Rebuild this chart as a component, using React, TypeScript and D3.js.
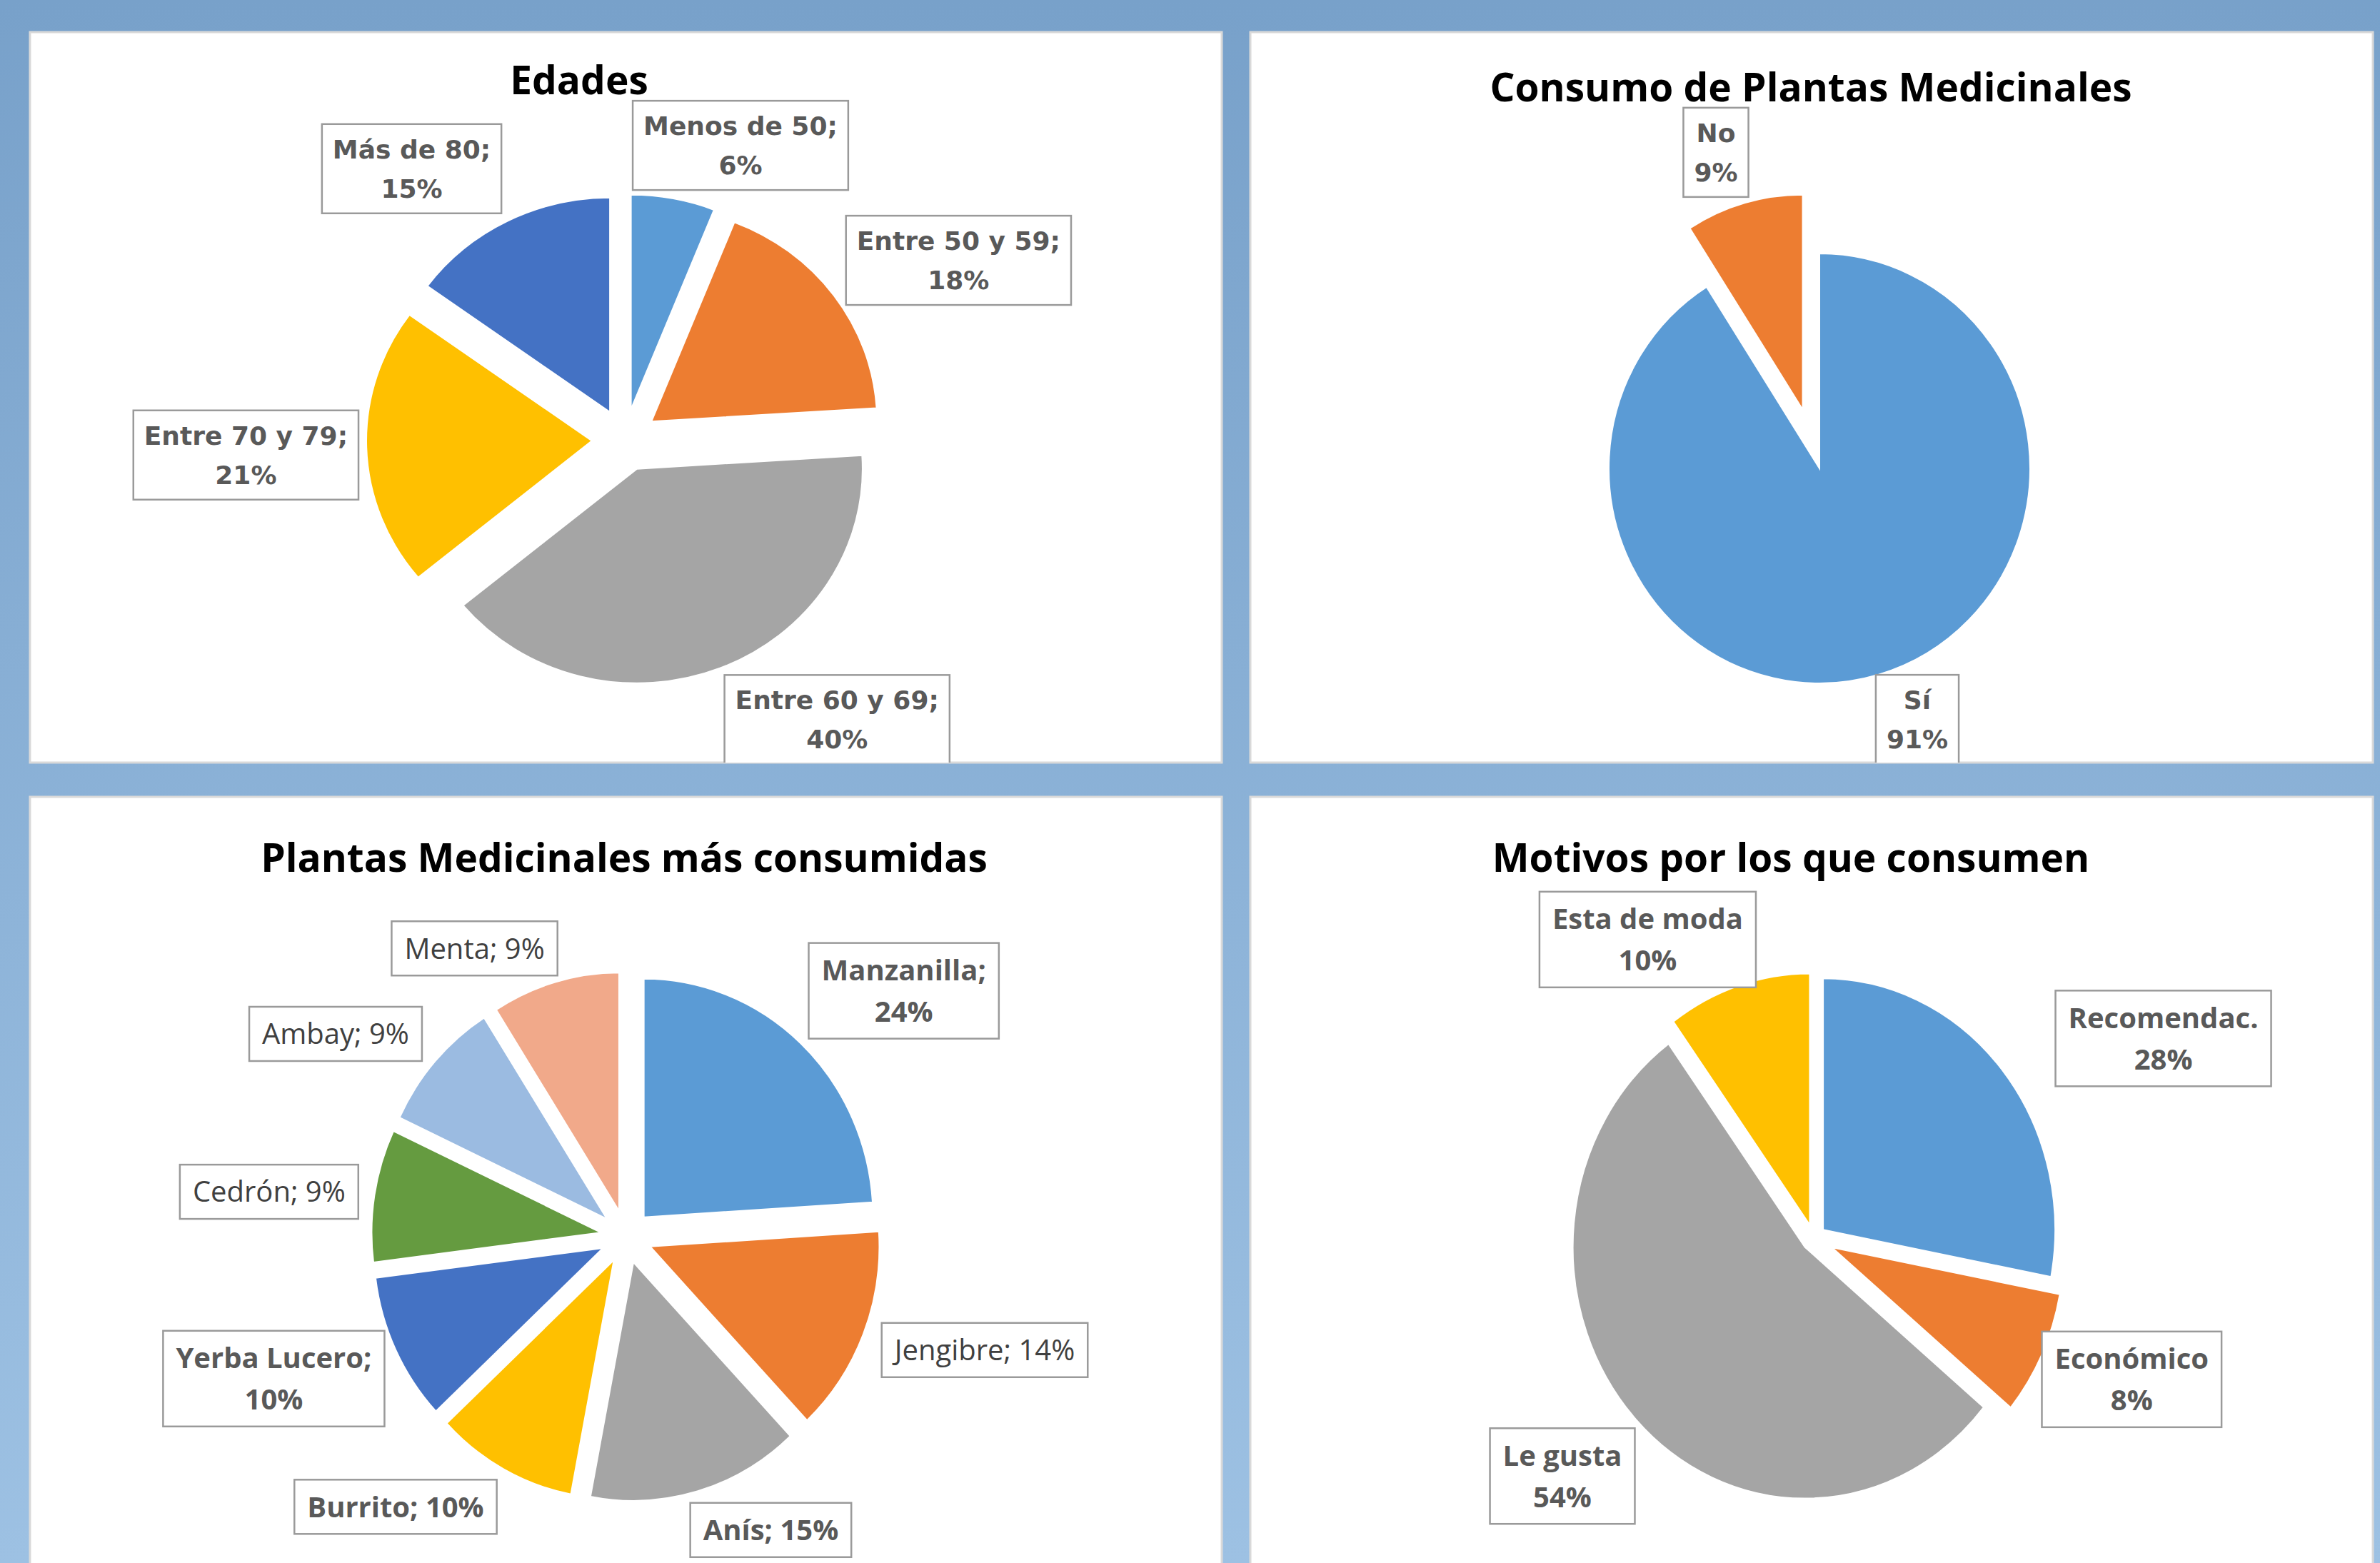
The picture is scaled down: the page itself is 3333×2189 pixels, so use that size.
import React from 'react';
import * as d3 from 'd3';

const W = 3333;
const H = 2189;

// ---------------- Data ----------------
const edadesTitle = 'Edades';
const edadesCats = ['Menos de 50', 'Entre 50 y 59', 'Entre 60 y 69', 'Entre 70 y 79', 'Más de 80'];
const edadesVals = [6, 18, 40, 21, 15];

const consumoTitle = 'Consumo de Plantas Medicinales';
const consumoCats = ['Sí', 'No'];
const consumoVals = [91, 9];

const plantasTitle = 'Plantas Medicinales más consumidas';
const plantasCats = ['Manzanilla', 'Jengibre', 'Anís', 'Burrito', 'Yerba Lucero', 'Cedrón', 'Ambay', 'Menta'];
const plantasVals = [24, 14, 15, 10, 10, 9, 9, 9];

const motivosTitle = 'Motivos por los que consumen';
const motivosCats = ['Recomendac.', 'Económico', 'Le gusta', 'Esta de moda'];
const motivosVals = [28, 8, 54, 10];

// ---------------- Styles / layout ----------------
const C_BLUE = '#5B9BD5';
const C_ORANGE = '#ED7D31';
const C_GRAY = '#A5A5A5';
const C_YELLOW = '#FFC000';
const C_DBLUE = '#4472C4';
const C_GREEN = '#659B40';
const C_LBLUE = '#9BBBE1';
const C_SALMON = '#F1A98A';

const edadesColors = [C_BLUE, C_ORANGE, C_GRAY, C_YELLOW, C_DBLUE];
const consumoColors = [C_BLUE, C_ORANGE];
const plantasColors = [C_BLUE, C_ORANGE, C_GRAY, C_YELLOW, C_DBLUE, C_GREEN, C_LBLUE, C_SALMON];
const motivosColors = [C_BLUE, C_ORANGE, C_GRAY, C_YELLOW];

const topLabel = { family: '"DejaVu Sans"', size: 36, lineH: 55, padX: 15, padV: 7.5, cap: 0.729 };
const botLabel = { family: '"Open Sans"', size: 40, lineH: 58, padX: 18, padV: 9, cap: 0.714 };

const panels = {
  edades: {
    x: 42, y: 45, w: 1669, h: 1023,
    titleX: 811, titleY: 132,
    cx: 875, cy: 616, r: 316, ky: 0.95,
    explode: [46, 46, 46, 46, 46],
    labelR: 1.3,
    nudges: [[85, -29], [135, -22], [146, 29], [-120, 9], [-112, -32]],
    twoLine: [true, true, true, true, true],
    bold: [true, true, true, true, true],
    sep: ';',
    style: topLabel,
  },
  consumo: {
    x: 1751, y: 45, w: 1572, h: 1023,
    titleX: 2536, titleY: 142,
    cx: 2548, cy: 656, r: 295, ky: 1.02,
    explode: [0, 84],
    labelR: 1.3,
    nudges: [[30, -24], [-38, -67]],
    twoLine: [true, true],
    bold: [true, true],
    sep: '',
    style: topLabel,
  },
  plantas: {
    x: 42, y: 1116, w: 1669, h: 1120,
    titleX: 874, titleY: 1221,
    cx: 877, cy: 1732, r: 321, ky: 1.04,
    explode: [36, 36, 36, 36, 36, 36, 36, 36],
    labelR: 1.3,
    nudges: [[103, -28], [114, -1], [86, -6], [-122, -2], [-116, 14], [-88, 5], [-94, 3], [-96, 13]],
    twoLine: [true, false, false, false, true, false, false, false],
    bold: [true, false, true, true, true, false, false, false],
    sep: ';',
    style: botLabel,
  },
  motivos: {
    x: 1751, y: 1116, w: 1572, h: 1120,
    titleX: 2508, titleY: 1221,
    cx: 2540, cy: 1734, r: 325, ky: 1.083,
    explode: [17, 28, 17, 18],
    labelR: 1.3,
    nudges: [[164, 12], [63, 3], [-44, 20], [-102, 17]],
    twoLine: [true, true, true, true],
    bold: [true, true, true, true],
    sep: '',
    style: botLabel,
  },
};

let _ctx: CanvasRenderingContext2D | null = null;
function measure(text: string, font: string): number {
  if (!_ctx) {
    const c = document.createElement('canvas');
    _ctx = c.getContext('2d');
  }
  if (!_ctx) return text.length * 20;
  _ctx.font = font;
  return _ctx.measureText(text).width;
}

function PiePanel({ id, p, title, cats, vals, colors }: any) {
  const pieGen = d3.pie<number>().sort(null).value((d: number) => d).startAngle(0).endAngle(2 * Math.PI);
  const arcs = pieGen(vals);
  const arcGen = d3.arc<any>().innerRadius(0).outerRadius(p.r);
  const labR = p.r * p.labelR;
  const labArc = d3.arc<any>().innerRadius(labR).outerRadius(labR);
  const st = p.style;

  return (
    <g>
      <defs>
        <clipPath id={`clip-${id}`}>
          <rect x={p.x} y={p.y} width={p.w} height={p.h} />
        </clipPath>
      </defs>
      <rect x={p.x} y={p.y} width={p.w} height={p.h} fill="#FFFFFF" stroke="#D9D9D9" strokeWidth={3} />
      <g clipPath={`url(#clip-${id})`}>
        <text
          x={p.titleX}
          y={p.titleY}
          textAnchor="middle"
          fontFamily='"Open Sans", sans-serif'
          fontWeight={700}
          fontSize={55}
          fill="#000000"
        >
          {title}
        </text>
        <g transform={`translate(${p.cx},${p.cy}) scale(1,${p.ky})`}>
          {arcs.map((a: any, i: number) => {
            const mid = (a.startAngle + a.endAngle) / 2;
            const ex = p.explode[i] || 0;
            const tx = ex * Math.sin(mid);
            const ty = -ex * Math.cos(mid);
            return (
              <path
                key={i}
                d={arcGen(a) || ''}
                transform={`translate(${tx},${ty})`}
                fill={colors[i]}
                stroke="#FFFFFF"
                strokeWidth={2}
                vectorEffect="non-scaling-stroke"
              />
            );
          })}
        </g>
        {arcs.map((a: any, i: number) => {
          const [lx, ly] = labArc.centroid(a);
          const X = p.cx + lx + p.nudges[i][0];
          const Y = p.cy + ly * p.ky + p.nudges[i][1];
          const pct = `${vals[i]}%`;
          const lines = p.twoLine[i] ? [`${cats[i]}${p.sep}`, pct] : [`${cats[i]}${p.sep} ${pct}`];
          const weight = p.bold[i] ? 700 : 400;
          const color = p.bold[i] ? '#595959' : '#404040';
          const font = `${weight} ${st.size}px ${st.family}`;
          const tw = Math.max(...lines.map((l) => measure(l, font)));
          const bw = tw + 2 * st.padX;
          const bh = lines.length * st.lineH + 2 * st.padV;
          const bx = X - bw / 2;
          const by = Y - bh / 2;
          return (
            <g key={`l${i}`}>
              <rect x={bx} y={by} width={bw} height={bh} fill="#FFFFFF" stroke="#9A9A9A" strokeWidth={2.5} />
              {lines.map((l, j) => (
                <text
                  key={j}
                  x={X}
                  y={by + st.padV + j * st.lineH + st.lineH / 2 + (st.cap * st.size) / 2}
                  textAnchor="middle"
                  fontFamily={st.family}
                  fontWeight={weight}
                  fontSize={st.size}
                  fill={color}
                >
                  {l}
                </text>
              ))}
            </g>
          );
        })}
      </g>
    </g>
  );
}

export default function App() {
  return (
    <div style={{ position: 'absolute', left: 0, top: 0, width: W, height: H, overflow: 'hidden' }}>
      <svg width={W} height={H} viewBox={`0 0 ${W} ${H}`} xmlns="http://www.w3.org/2000/svg">
        <defs>
          <linearGradient id="bg" x1="0" y1="0" x2="0" y2="1">
            <stop offset="0%" stopColor="#78A1CA" />
            <stop offset="100%" stopColor="#9DC1E3" />
          </linearGradient>
        </defs>
        <rect x={0} y={0} width={W} height={H} fill="url(#bg)" />
        <PiePanel id="edades" p={panels.edades} title={edadesTitle} cats={edadesCats} vals={edadesVals} colors={edadesColors} />
        <PiePanel id="consumo" p={panels.consumo} title={consumoTitle} cats={consumoCats} vals={consumoVals} colors={consumoColors} />
        <PiePanel id="plantas" p={panels.plantas} title={plantasTitle} cats={plantasCats} vals={plantasVals} colors={plantasColors} />
        <PiePanel id="motivos" p={panels.motivos} title={motivosTitle} cats={motivosCats} vals={motivosVals} colors={motivosColors} />
      </svg>
    </div>
  );
}
